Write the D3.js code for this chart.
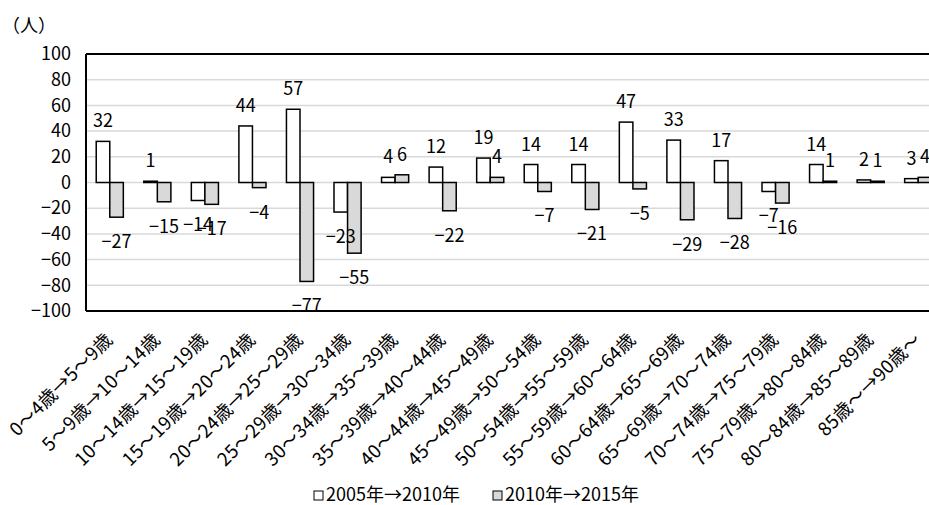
<!DOCTYPE html>
<html lang="ja">
<head>
<meta charset="utf-8">
<script src="https://cdn.jsdelivr.net/npm/d3@7"></script>
<style>
  html, body { margin: 0; padding: 0; background: #fff; }
  svg { display: block; }
  text { font-family: "Noto Sans CJK JP", "Noto Sans", sans-serif; fill: #000; }
</style>
</head>
<body>
<svg id="chart" width="929" height="505"></svg>
<script>
// 年齢階級（5歳階級）ごとのコーホート変化
const categories = [
  "0～4歳→5～9歳", "5～9歳→10～14歳", "10～14歳→15～19歳", "15～19歳→20～24歳",
  "20～24歳→25～29歳", "25～29歳→30～34歳", "30～34歳→35～39歳", "35～39歳→40～44歳",
  "40～44歳→45～49歳", "45～49歳→50～54歳", "50～54歳→55～59歳", "55～59歳→60～64歳",
  "60～64歳→65～69歳", "65～69歳→70～74歳", "70～74歳→75～79歳", "75～79歳→80～84歳",
  "80～84歳→85～89歳", "85歳～→90歳～"
];
const seriesNames = ["2005年→2010年", "2010年→2015年"];
const values2005to2010 = [32, 1, -14, 44, 57, -23, 4, 12, 19, 14, 14, 47, 33, 17, -7, 14, 2, 3];
const values2010to2015 = [-27, -15, -17, -4, -77, -55, 6, -22, 4, -7, -21, -5, -29, -28, -16, 1, 1, 4];
const yTicks = [-100, -80, -60, -40, -20, 0, 20, 40, 60, 80, 100];
const unitLabel = "（人）";

const seriesValues = [values2005to2010, values2010to2015];
const seriesFill = ["#ffffff", "#d9d9d9"];

const svg = d3.select("#chart");
const plot = { left: 86, right: 942, top: 54, bottom: 311 };

const x = d3.scaleBand()
  .domain(categories)
  .range([plot.left, plot.right])
  .paddingInner(0.43)
  .paddingOuter(0.215);

const xSub = d3.scaleBand()
  .domain(seriesNames)
  .range([0, x.bandwidth()]);

const y = d3.scaleLinear()
  .domain([-100, 100])
  .range([plot.bottom, plot.top]);

// gridlines
svg.append("g")
  .selectAll("line")
  .data(yTicks)
  .join("line")
  .attr("x1", plot.left)
  .attr("x2", plot.right)
  .attr("y1", d => y(d))
  .attr("y2", d => y(d))
  .attr("stroke", "#d9d9d9")
  .attr("stroke-width", 1.5);

// y axis labels
const yAxis = d3.axisLeft(y).tickValues(yTicks).tickSize(0).tickPadding(15);
svg.append("g")
  .attr("transform", `translate(${plot.left},0)`)
  .call(yAxis)
  .call(g => g.select(".domain").remove())
  .call(g => g.selectAll("text")
    .style("font-family", "'Noto Sans CJK JP', sans-serif")
    .style("font-size", "18px")
    .attr("fill", "#000"));

// bars
const rows = categories.map((c, i) => ({ cat: c, vals: seriesValues.map((s, k) => ({ name: seriesNames[k], k, v: s[i] })) }));

const groups = svg.append("g")
  .selectAll("g")
  .data(rows)
  .join("g")
  .attr("transform", d => `translate(${x(d.cat)},0)`);

groups.selectAll("rect")
  .data(d => d.vals)
  .join("rect")
  .attr("x", d => xSub(d.name))
  .attr("width", xSub.bandwidth())
  .attr("y", d => y(Math.max(0, d.v)))
  .attr("height", d => Math.abs(y(d.v) - y(0)))
  .attr("fill", d => seriesFill[d.k])
  .attr("stroke", "#000")
  .attr("stroke-width", 1.5);

// value labels
groups.selectAll("text.val")
  .data(d => d.vals)
  .join("text")
  .attr("class", "val")
  .attr("x", d => xSub(d.name) + xSub.bandwidth() / 2)
  .attr("y", d => d.v >= 0 ? y(d.v) - 14 : y(d.v) + 31)
  .attr("text-anchor", "middle")
  .style("font-size", "18px")
  .text(d => d3.format("")(d.v).replace("-", "−"));

// plot border (left, top, bottom)
const border = svg.append("g").attr("stroke", "#000").attr("stroke-width", 2);
border.append("line").attr("x1", plot.left).attr("x2", plot.left).attr("y1", plot.top).attr("y2", plot.bottom);
border.append("line").attr("x1", plot.left).attr("x2", plot.right).attr("y1", plot.top).attr("y2", plot.top);
border.append("line").attr("x1", plot.left).attr("x2", plot.right).attr("y1", plot.bottom).attr("y2", plot.bottom);

// category labels, rotated
svg.append("g")
  .selectAll("text")
  .data(categories)
  .join("text")
  .attr("transform", d => `translate(${x(d) + x.bandwidth() / 2 + 4},${plot.bottom + 30}) rotate(-45)`)
  .attr("text-anchor", "end")
  .style("font-size", "18.5px")
  .style("letter-spacing", "0.3px")
  .text(d => d);

// unit label
svg.append("text")
  .attr("x", 2)
  .attr("y", 32)
  .style("font-size", "18px")
  .text(unitLabel);

// legend
const legendItems = [
  { name: seriesNames[0], fill: seriesFill[0], x: 314 },
  { name: seriesNames[1], fill: seriesFill[1], x: 493 }
];
const legend = svg.append("g");
legend.selectAll("rect")
  .data(legendItems)
  .join("rect")
  .attr("x", d => d.x)
  .attr("y", 491)
  .attr("width", 9)
  .attr("height", 9)
  .attr("fill", d => d.fill)
  .attr("stroke", "#000")
  .attr("stroke-width", 1);
legend.selectAll("text")
  .data(legendItems)
  .join("text")
  .attr("x", d => d.x + 12)
  .attr("y", 501)
  .style("font-size", "18px")
  .text(d => d.name);
</script>
</body>
</html>
